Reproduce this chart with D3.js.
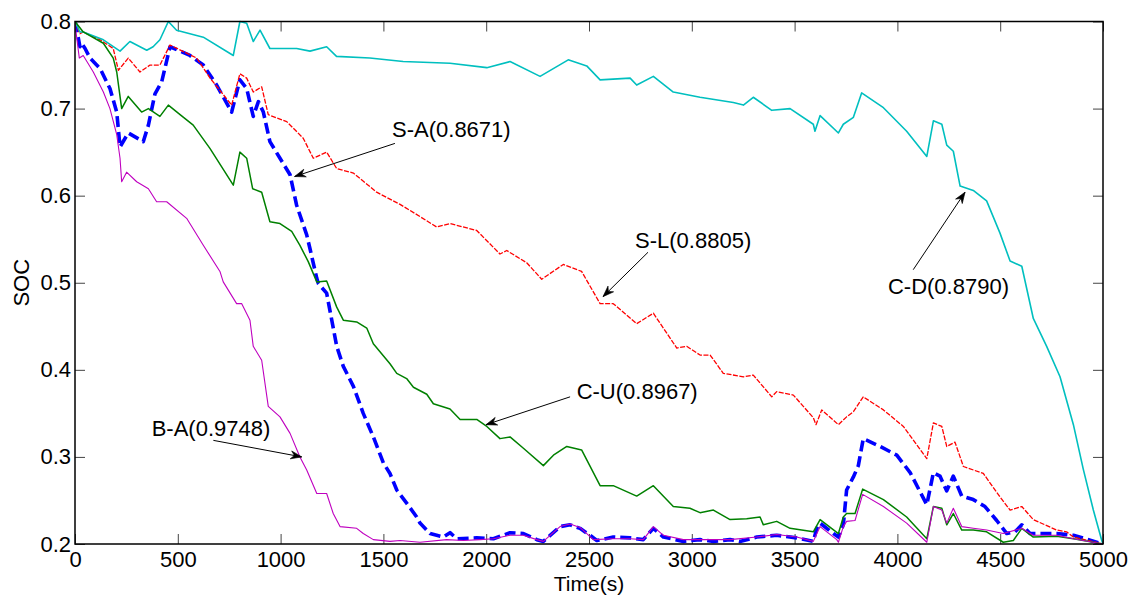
<!DOCTYPE html>
<html>
<head>
<meta charset="utf-8">
<script src="https://cdn.jsdelivr.net/npm/d3@7"></script>
<style>
  html, body { margin: 0; padding: 0; background: #fff; }
  svg { display: block; }
  text { font-family: "Liberation Sans", Arial, Helvetica, sans-serif; }
</style>
</head>
<body>
<svg id="chart" width="1134" height="598"></svg>
<script>
// ---------------- data (time in s, SOC) ----------------
const xTicks = [0, 500, 1000, 1500, 2000, 2500, 3000, 3500, 4000, 4500, 5000];
const yTicks = [0.2, 0.3, 0.4, 0.5, 0.6, 0.7, 0.8];

const seriesSA = [ // S-A, blue dashed
  [0,0.800],[5,0.795],[24,0.771],[32,0.775],[49,0.769],[73,0.758],[122,0.746],[170,0.723],[203,0.696],
  [219,0.656],[259,0.672],[332,0.662],[357,0.681],[389,0.717],[422,0.731],[462,0.771],[559,0.761],
  [624,0.750],[689,0.727],[762,0.696],[802,0.733],[835,0.723],[867,0.691],[892,0.708],[916,0.696],
  [948,0.662],[997,0.643],[1046,0.624],[1078,0.589],[1127,0.555],[1143,0.539],[1176,0.505],[1184,0.499],
  [1224,0.488],[1273,0.427],[1305,0.404],[1354,0.381],[1402,0.350],[1451,0.323],[1500,0.293],[1532,0.281],
  [1565,0.262],[1613,0.247],[1662,0.231],[1678,0.224],[1727,0.212],[1791,0.208],[1824,0.213],[1857,0.206],
  [1954,0.207],[2035,0.206],[2116,0.213],[2181,0.212],[2246,0.205],[2278,0.203],[2359,0.220],[2408,0.222],
  [2456,0.218],[2505,0.210],[2538,0.204],[2618,0.208],[2700,0.207],[2764,0.205],[2813,0.218],[2862,0.208],
  [2959,0.203],[3040,0.205],[3105,0.203],[3186,0.205],[3234,0.203],[3316,0.208],[3413,0.210],[3510,0.207],
  [3591,0.203],[3608,0.218],[3624,0.224],[3689,0.212],[3713,0.208],[3737,0.222],[3753,0.262],[3786,0.277],
  [3810,0.290],[3834,0.321],[3916,0.312],[3997,0.302],[4062,0.282],[4143,0.245],[4175,0.282],[4207,0.278],
  [4240,0.261],[4272,0.278],[4313,0.255],[4369,0.251],[4426,0.243],[4483,0.227],[4532,0.212],[4572,0.214],
  [4605,0.222],[4645,0.212],[4775,0.212],[4856,0.210],[5000,0.200]
];

const seriesSL = [ // S-L, red
  [0,0.800],[24,0.786],[40,0.788],[122,0.779],[186,0.769],[211,0.744],[259,0.758],[316,0.742],[365,0.750],
  [413,0.750],[462,0.773],[592,0.758],[657,0.735],[762,0.704],[802,0.740],[835,0.735],[867,0.719],
  [908,0.725],[940,0.693],[1030,0.685],[1110,0.666],[1159,0.643],[1224,0.650],[1273,0.631],[1354,0.626],
  [1467,0.604],[1581,0.590],[1678,0.576],[1759,0.564],[1824,0.568],[1954,0.560],[2067,0.533],[2100,0.537],
  [2197,0.523],[2270,0.504],[2375,0.521],[2464,0.513],[2554,0.476],[2618,0.476],[2732,0.453],[2813,0.465],
  [2927,0.425],[2975,0.427],[3040,0.417],[3089,0.417],[3153,0.396],[3251,0.392],[3299,0.394],[3389,0.369],
  [3413,0.375],[3494,0.371],[3591,0.345],[3604,0.337],[3632,0.354],[3713,0.337],[3753,0.346],[3786,0.352],
  [3834,0.369],[3932,0.354],[4029,0.335],[4143,0.298],[4175,0.339],[4216,0.335],[4240,0.312],[4280,0.317],
  [4321,0.289],[4418,0.281],[4499,0.254],[4548,0.239],[4605,0.243],[4661,0.228],[4775,0.216],[4823,0.214],
  [4856,0.208],[5000,0.200]
];

const seriesCD = [ // C-D, cyan
  [0,0.800],[24,0.788],[40,0.788],[138,0.779],[219,0.766],[267,0.777],[349,0.767],[380,0.771],[413,0.779],
  [454,0.800],[494,0.790],[624,0.782],[770,0.761],[802,0.800],[835,0.798],[867,0.777],[900,0.790],
  [948,0.769],[1078,0.769],[1143,0.766],[1224,0.771],[1272,0.760],[1434,0.758],[1596,0.754],[1824,0.752],
  [2003,0.747],[2116,0.754],[2262,0.737],[2399,0.756],[2489,0.749],[2554,0.733],[2700,0.735],[2732,0.727],
  [2813,0.737],[2910,0.719],[3040,0.713],[3202,0.707],[3251,0.704],[3299,0.713],[3389,0.698],[3478,0.700],
  [3591,0.682],[3599,0.674],[3624,0.692],[3713,0.672],[3737,0.682],[3786,0.690],[3826,0.718],[3932,0.701],
  [4045,0.674],[4143,0.645],[4175,0.686],[4216,0.682],[4240,0.658],[4272,0.651],[4305,0.611],[4369,0.606],
  [4434,0.594],[4499,0.557],[4548,0.525],[4605,0.519],[4661,0.459],[4726,0.427],[4791,0.392],[4856,0.337],
  [4904,0.286],[4953,0.239],[4994,0.204],[5000,0.200]
];

const seriesCU = [ // C-U, green
  [0,0.800],[40,0.788],[138,0.775],[186,0.758],[203,0.742],[227,0.700],[259,0.714],[324,0.696],[357,0.700],
  [413,0.691],[454,0.704],[511,0.693],[575,0.681],[657,0.654],[770,0.612],[802,0.650],[835,0.643],
  [864,0.608],[908,0.604],[948,0.570],[997,0.568],[1054,0.559],[1094,0.543],[1135,0.524],[1176,0.501],
  [1224,0.502],[1273,0.472],[1305,0.457],[1370,0.455],[1419,0.448],[1451,0.430],[1532,0.407],[1565,0.396],
  [1613,0.390],[1646,0.380],[1711,0.372],[1743,0.361],[1824,0.355],[1873,0.343],[1954,0.343],[2003,0.335],
  [2067,0.321],[2116,0.323],[2181,0.310],[2278,0.290],[2327,0.302],[2392,0.312],[2464,0.308],[2554,0.267],
  [2618,0.267],[2732,0.255],[2813,0.267],[2910,0.243],[2991,0.241],[3040,0.236],[3105,0.239],[3186,0.228],
  [3267,0.229],[3332,0.231],[3348,0.222],[3413,0.226],[3478,0.218],[3591,0.214],[3624,0.228],[3713,0.212],
  [3737,0.231],[3753,0.235],[3794,0.235],[3831,0.263],[3932,0.251],[4045,0.231],[4143,0.206],[4175,0.243],
  [4216,0.241],[4240,0.222],[4272,0.235],[4313,0.216],[4369,0.216],[4434,0.214],[4515,0.202],[4564,0.204],
  [4605,0.218],[4661,0.208],[4775,0.209],[4856,0.206],[5000,0.200]
];

const seriesBA = [ // B-A, magenta
  [0,0.797],[21,0.758],[40,0.761],[89,0.742],[138,0.719],[170,0.700],[203,0.670],[219,0.643],[227,0.616],
  [251,0.627],[300,0.616],[357,0.608],[397,0.593],[446,0.593],[543,0.574],[624,0.543],[705,0.513],
  [721,0.501],[786,0.476],[811,0.476],[851,0.457],[867,0.427],[908,0.411],[940,0.358],[997,0.346],
  [1046,0.327],[1094,0.300],[1127,0.285],[1176,0.258],[1224,0.258],[1256,0.235],[1289,0.220],[1370,0.218],
  [1402,0.212],[1451,0.205],[1532,0.203],[1581,0.204],[1678,0.202],[1808,0.205],[1889,0.204],[1970,0.205],
  [2035,0.206],[2116,0.210],[2181,0.210],[2246,0.205],[2278,0.203],[2359,0.220],[2408,0.223],[2456,0.219],
  [2521,0.205],[2618,0.206],[2700,0.206],[2764,0.205],[2813,0.220],[2862,0.210],[2959,0.205],[3040,0.205],
  [3105,0.205],[3186,0.205],[3316,0.208],[3413,0.211],[3510,0.208],[3591,0.203],[3624,0.220],[3705,0.205],
  [3713,0.202],[3737,0.220],[3753,0.226],[3794,0.227],[3831,0.257],[3932,0.243],[4045,0.224],[4143,0.202],
  [4175,0.243],[4216,0.239],[4240,0.224],[4272,0.241],[4313,0.220],[4369,0.218],[4434,0.216],[4515,0.212],
  [4605,0.218],[4661,0.210],[4775,0.210],[4856,0.206],[5000,0.200]
];

// annotations: label, text anchor [t, soc], arrow tail [t, soc], arrow tip [t, soc]
const annLabels = ["S-A(0.8671)", "S-L(0.8805)", "C-U(0.8967)", "C-D(0.8790)", "B-A(0.9748)"];
const annText   = [[1542,0.667],[2724,0.540],[2440,0.366],[3954,0.487],[373,0.324]];
const annTail   = [[1556,0.660],[2787,0.535],[2408,0.369],[4077,0.515],[673,0.319]];
const annTip    = [[1068,0.622],[2568,0.484],[1999,0.337],[4329,0.604],[1103,0.300]];

// ---------------- chart ----------------
const svg = d3.select("#chart");
const L = 75, R = 1103, T = 21.5, B = 544;
const x = d3.scaleLinear().domain([0, 5000]).range([L, R]);
const y = d3.scaleLinear().domain([0.2, 0.8]).range([B, T]);

const defs = svg.append("defs");
defs.append("clipPath").attr("id", "clip")
  .append("rect").attr("x", L).attr("y", T - 2).attr("width", R - L).attr("height", B - T + 2);

// axes with inward ticks
const tickFont = 22, annFont = 22;
const gx = svg.append("g").attr("transform", `translate(0,${B})`)
  .call(d3.axisBottom(x).tickValues(xTicks).tickFormat(d3.format("d")).tickSizeInner(-10).tickSizeOuter(0).tickPadding(7));
const gy = svg.append("g").attr("transform", `translate(${L},0)`)
  .call(d3.axisLeft(y).tickValues(yTicks).tickFormat(d3.format(".1f")).tickSizeInner(-10).tickSizeOuter(0).tickPadding(4));
const gt = svg.append("g").attr("transform", `translate(0,${T})`)
  .call(d3.axisTop(x).tickValues(xTicks).tickFormat("").tickSizeInner(-10).tickSizeOuter(0));
const gr = svg.append("g").attr("transform", `translate(${R},0)`)
  .call(d3.axisRight(y).tickValues(yTicks).tickFormat("").tickSizeInner(-10).tickSizeOuter(0));

[gx, gy, gt, gr].forEach(g => {
  g.select(".domain").remove();
  g.selectAll(".tick line").attr("stroke", "#444").attr("stroke-width", 1);
  g.selectAll(".tick text").attr("font-size", tickFont).attr("fill", "#000")
    .attr("font-family", '"Liberation Sans", Arial, sans-serif');
});

// series lines
const line = d3.line().x(d => x(d[0])).y(d => y(d[1]));
const plot = svg.append("g").attr("clip-path", "url(#clip)");

const styles = [
  { data: seriesSA, color: "#0000FF", width: 3.6, dash: "11,5" },
  { data: seriesSL, color: "#FF0000", width: 1.3, dash: "5,1.5" },
  { data: seriesCD, color: "#00BFBF", width: 1.6, dash: null },
  { data: seriesCU, color: "#008000", width: 1.5, dash: null },
  { data: seriesBA, color: "#BF00BF", width: 1.1, dash: null }
];
styles.forEach(s => {
  plot.append("path").datum(s.data)
    .attr("d", line)
    .attr("fill", "none")
    .attr("stroke", s.color)
    .attr("stroke-width", s.width)
    .attr("stroke-linejoin", "round")
    .attr("stroke-dasharray", s.dash);
});

// box
svg.append("rect").attr("x", L).attr("y", T).attr("width", R - L).attr("height", B - T)
  .attr("fill", "none").attr("stroke", "#000").attr("stroke-width", 1.5);

// axis titles
svg.append("text").attr("x", (L + R) / 2).attr("y", 591).attr("text-anchor", "middle")
  .attr("font-size", 21).text("Time(s)");
svg.append("text").attr("transform", `translate(29,${(T + B) / 2}) rotate(-90)`)
  .attr("text-anchor", "middle").attr("font-size", annFont).text("SOC");

// annotations
const ann = svg.append("g");
annLabels.forEach((lab, i) => {
  ann.append("text").attr("x", x(annText[i][0])).attr("y", y(annText[i][1]))
    .attr("font-size", annFont).attr("fill", "#000").text(lab);
  const x1 = x(annTail[i][0]), y1 = y(annTail[i][1]);
  const x2 = x(annTip[i][0]), y2 = y(annTip[i][1]);
  ann.append("line").attr("x1", x1).attr("y1", y1).attr("x2", x2).attr("y2", y2)
    .attr("stroke", "#000").attr("stroke-width", 1);
  const ang = Math.atan2(y2 - y1, x2 - x1) * 180 / Math.PI;
  ann.append("path").attr("d", "M0,0 L-11,-4 L-7.5,0 L-11,4 Z")
    .attr("transform", `translate(${x2},${y2}) rotate(${ang})`)
    .attr("fill", "#000").attr("stroke", "#000").attr("stroke-width", 0.6);
});
</script>
</body>
</html>
